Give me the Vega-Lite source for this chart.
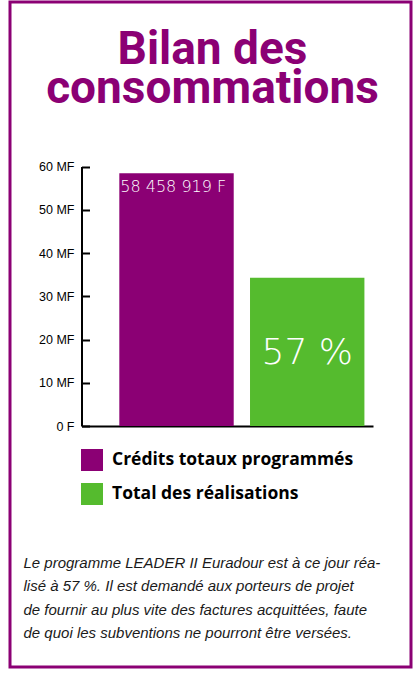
{
  "$schema": "https://vega.github.io/schema/vega-lite/v6.json",
  "width": 401,
  "height": 665,
  "autosize": {"type": "none"},
  "padding": {"left": 10, "top": 2, "right": 3, "bottom": 8},
  "background": "white",
  "data": {
    "values": [
      {"cat": "Crédits totaux programmés", "value": 58.458919, "label": "58 458 919 F"},
      {"cat": "Total des réalisations", "value": 34.3, "label": "57 %"}
    ]
  },
  "title": {
    "text": ["Bilan des", "consommations"],
    "font": "Roboto",
    "fontSize": 46,
    "fontWeight": "bold",
    "color": "#8B0074",
    "anchor": "middle",
    "frame": "group",
    "lineHeight": 39,
    "offset": -111,
    "dx": 2
  },
  "encoding": {
    "x": {
      "field": "cat",
      "type": "nominal",
      "sort": null,
      "scale": {"range": [71.5, 363], "paddingInner": 0.1247, "paddingOuter": 0.1775, "align": 0.815},
      "axis": {
        "orient": "bottom",
        "offset": -241,
        "domainColor": "black",
        "domainWidth": 2,
        "ticks": false,
        "labels": false,
        "title": [
          "Le programme LEADER II Euradour est à ce jour réa-",
          "lisé à 57 %. Il est demandé aux porteurs de projet",
          "de fournir au plus vite des factures acquittées, faute",
          "de quoi les subventions ne pourront être versées."
        ],
        "titleX": 13,
        "titleY": 141,
        "titleAlign": "left",
        "titleAnchor": "start",
        "titleBaseline": "alphabetic",
        "titleFont": "Liberation Sans",
        "titleFontSize": 15,
        "titleFontStyle": "italic",
        "titleFontWeight": "normal",
        "titleLineHeight": 23.5,
        "titleColor": "#1a1a1a"
      }
    },
    "y": {
      "field": "value",
      "type": "quantitative",
      "scale": {"domain": [0, 60], "range": [424, 164.5], "nice": false, "zero": true},
      "axis": {
        "orient": "left",
        "offset": -71.5,
        "values": [0, 10, 20, 30, 40, 50, 60],
        "labelExpr": "datum.value == 0 ? '0 F' : datum.value + ' MF'",
        "grid": false,
        "domainColor": "black",
        "domainWidth": 2,
        "tickColor": "black",
        "tickWidth": 2,
        "tickSize": -8,
        "labelPadding": 15.5,
        "labelFont": "Liberation Sans",
        "labelFontSize": 12.5,
        "labelColor": "black",
        "title": null
      }
    }
  },
  "layer": [
    {
      "mark": {"type": "bar"},
      "encoding": {
        "color": {
          "field": "cat",
          "type": "nominal",
          "scale": {"domain": ["Crédits totaux programmés", "Total des réalisations"], "range": ["#8B0074", "#55BB2E"]},
          "legend": {
            "orient": "none",
            "legendX": 71,
            "legendY": 447,
            "title": null,
            "symbolType": "square",
            "symbolSize": 484,
            "symbolStrokeWidth": 0,
            "symbolOpacity": 1,
            "labelFont": "Open Sans",
            "labelFontWeight": "bold",
            "labelFontSize": 17.5,
            "labelLimit": 320,
            "labelColor": "black",
            "rowPadding": 12,
            "labelOffset": 9,
            "padding": 0
          }
        }
      }
    },
    {
      "transform": [{"filter": "datum.cat == 'Crédits totaux programmés'"}],
      "mark": {"type": "text", "align": "left", "baseline": "alphabetic", "dx": 1, "dy": 18.5, "color": "white", "font": "DejaVu Sans", "fontSize": 16, "fontWeight": 300},
      "encoding": {
        "x": {"field": "cat", "type": "nominal", "sort": null, "bandPosition": 0},
        "text": {"field": "label"}
      }
    },
    {
      "transform": [{"filter": "datum.cat == 'Total des réalisations'"}],
      "mark": {"type": "text", "align": "center", "baseline": "alphabetic", "dy": 86, "color": "white", "font": "DejaVu Sans", "fontSize": 36, "fontWeight": 300},
      "encoding": {
        "x": {"field": "cat", "type": "nominal", "sort": null, "bandPosition": 0.5},
        "text": {"field": "label"}
      }
    }
  ],
  "config": {
    "view": {"stroke": "#8B0074", "strokeWidth": 3}
  }
}
